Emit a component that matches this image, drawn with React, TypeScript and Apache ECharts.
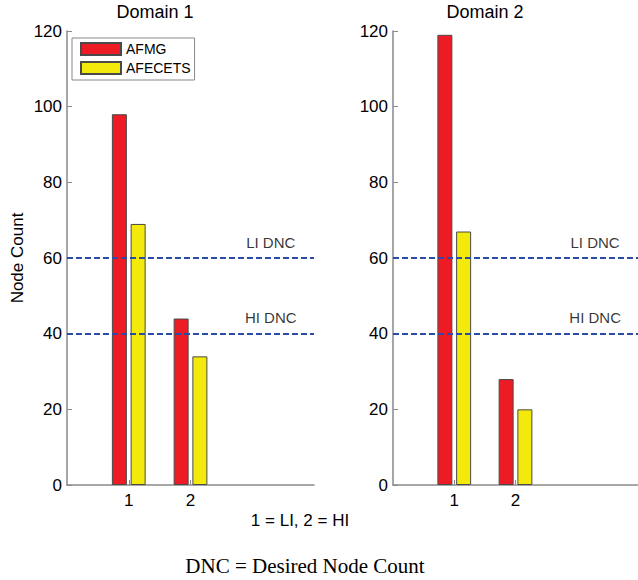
import React, { useEffect, useRef } from 'react';
import * as echarts from 'echarts';

const panelTitles = ['Domain 1', 'Domain 2'];
const positions = [1, 2];
const afmgValues = [
  [98, 44],
  [119, 28],
];
const afecetsValues = [
  [69, 34],
  [67, 20],
];
const dncLevels = [60, 40];
const dncLabels = ['LI DNC', 'HI DNC'];
const dncLabelX = 3.3;
const seriesNames = ['AFMG', 'AFECETS'];
const xTickValues = [1, 2];

const FONT = '"Liberation Sans", Arial, sans-serif';
const AXIS_COLOR = '#8a8a8a';
const RED = '#ED1C24';
const YELLOW = '#F3EA0C';
const DNC_BLUE = '#2a4ca6';

export default function App() {
  const ref = useRef<HTMLDivElement>(null);

  useEffect(() => {
    document.body.style.margin = '0';
    if (!ref.current) return;
    const chart = echarts.init(ref.current, undefined, { renderer: 'svg' });

    const gridLefts = [67, 393];
    const grids = gridLefts.map((l) => ({ left: l, top: 31, width: 247, height: 454 }));

    const xAxes = gridLefts.map((_, i) => ({
      type: 'value',
      gridIndex: i,
      min: 0,
      max: 4,
      interval: 1,
      splitLine: { show: false },
      axisLine: { show: true, onZero: false, lineStyle: { color: AXIS_COLOR, width: 1.5 } },
      axisTick: { show: true, inside: true, length: 5, customValues: xTickValues, lineStyle: { color: AXIS_COLOR } },
      axisLabel: { customValues: xTickValues, fontSize: 17, fontFamily: FONT, color: '#000', margin: 7 },
    }));

    const yAxes = gridLefts.map((_, i) => ({
      type: 'value',
      gridIndex: i,
      min: 0,
      max: 120,
      interval: 20,
      splitLine: { show: false },
      axisLine: { show: true, lineStyle: { color: AXIS_COLOR, width: 1.5 } },
      axisTick: { show: true, inside: true, length: 5, lineStyle: { color: AXIS_COLOR } },
      axisLabel: { fontSize: 17, fontFamily: FONT, color: '#000', margin: 5 },
      name: i === 0 ? 'Node Count' : '',
      nameLocation: 'middle',
      nameRotate: 90,
      nameGap: 41,
      nameTextStyle: { fontSize: 17, fontFamily: FONT, color: '#000' },
    }));

    const series: any[] = [];
    gridLefts.forEach((_, i) => {
      series.push({
        type: 'bar',
        name: seriesNames[0],
        xAxisIndex: i,
        yAxisIndex: i,
        barWidth: 15,
        barGap: '25%',
        data: positions.map((p, j) => [p, afmgValues[i][j]]),
        itemStyle: { color: RED, borderColor: '#4a4a4a', borderWidth: 1 },
        markLine: {
          silent: true,
          symbol: 'none',
          label: { show: false },
          lineStyle: { color: DNC_BLUE, type: [6, 3], width: 2 },
          data: dncLevels.map((v) => ({ yAxis: v })),
        },
      });
      series.push({
        type: 'bar',
        name: seriesNames[1],
        xAxisIndex: i,
        yAxisIndex: i,
        barWidth: 15,
        barGap: '25%',
        data: positions.map((p, j) => [p, afecetsValues[i][j]]),
        itemStyle: { color: YELLOW, borderColor: '#4a4a4a', borderWidth: 1 },
      });
      series.push({
        type: 'scatter',
        name: 'dnc-labels',
        xAxisIndex: i,
        yAxisIndex: i,
        silent: true,
        symbolSize: 1,
        itemStyle: { color: 'transparent' },
        data: dncLevels.map((v, k) => ({ value: [dncLabelX, v], name: dncLabels[k] })),
        label: {
          show: true,
          position: 'top',
          distance: 8,
          formatter: (p: any) => p.name,
          fontSize: 15,
          fontFamily: FONT,
          color: '#000',
        },
      });
    });

    const graphics: any[] = [
      {
        type: 'text',
        x: 155,
        y: 12,
        style: { text: panelTitles[0], font: `18px ${FONT}`, fill: '#000', textAlign: 'center', textVerticalAlign: 'middle' },
      },
      {
        type: 'text',
        x: 485,
        y: 12,
        style: { text: panelTitles[1], font: `18px ${FONT}`, fill: '#000', textAlign: 'center', textVerticalAlign: 'middle' },
      },
      {
        type: 'text',
        x: 300,
        y: 520,
        style: { text: '1 = LI, 2 = HI', font: `17px ${FONT}`, fill: '#000', textAlign: 'center', textVerticalAlign: 'middle' },
      },
      {
        type: 'text',
        x: 305,
        y: 566,
        style: {
          text: 'DNC = Desired Node Count',
          font: `21px "Liberation Serif", "Times New Roman", serif`,
          fill: '#000',
          textAlign: 'center',
          textVerticalAlign: 'middle',
        },
      },
    ];

    chart.setOption({
      animation: false,
      backgroundColor: '#fff',
      grid: grids,
      xAxis: xAxes,
      yAxis: yAxes,
      legend: {
        data: seriesNames.map((n) => ({ name: n, icon: 'rect' })),
        orient: 'vertical',
        left: 72,
        top: 38,
        padding: [4, 4, 5, 8],
        itemGap: 5,
        itemWidth: 40,
        itemHeight: 12,
        borderColor: '#888',
        borderWidth: 1,
        backgroundColor: '#fff',
        selectedMode: false,
        textStyle: { fontSize: 14, fontFamily: FONT, color: '#000' },
      },
      series,
      graphic: graphics,
    });

    return () => chart.dispose();
  }, []);

  return <div ref={ref} style={{ width: 638, height: 580 }} />;
}
